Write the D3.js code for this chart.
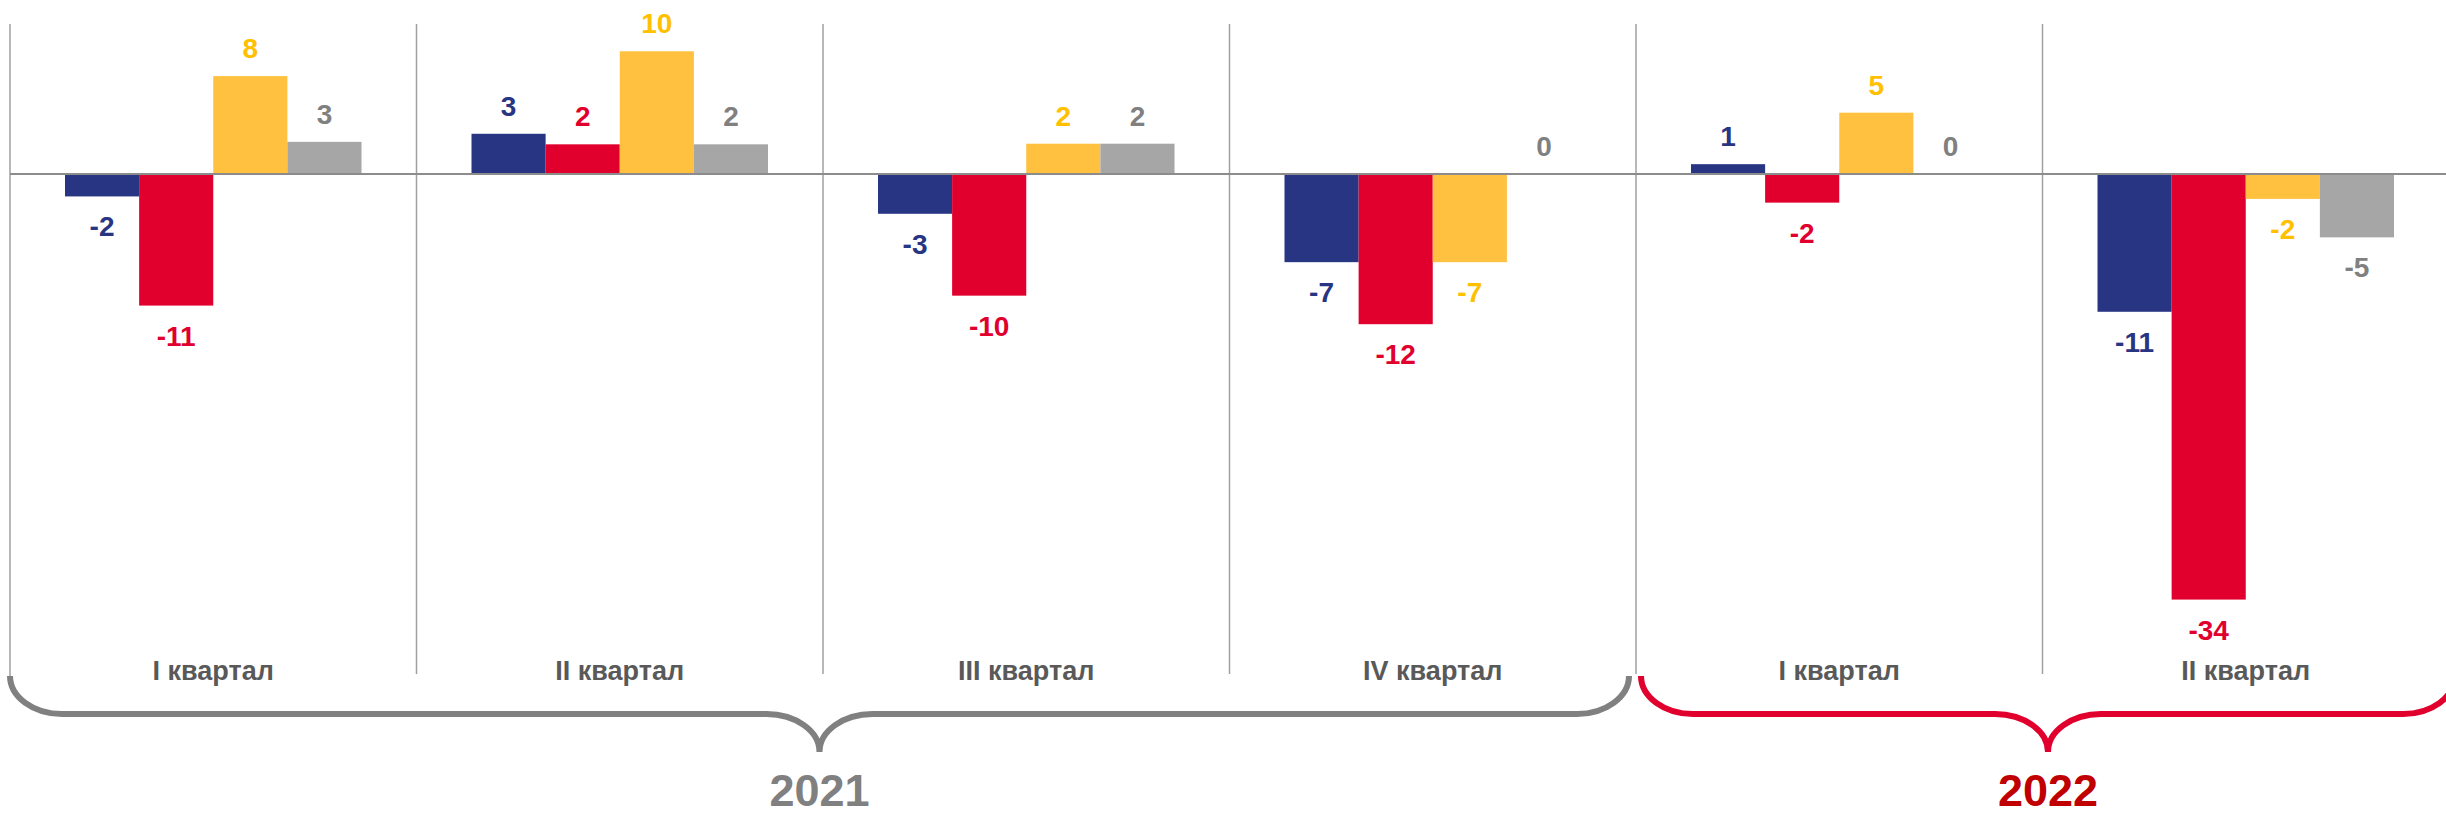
<!DOCTYPE html>
<html>
<head>
<meta charset="utf-8">
<script src="https://cdn.jsdelivr.net/npm/d3@7"></script>
<style>
  html, body { margin: 0; padding: 0; background: #fff; }
  svg { display: block; font-family: "Liberation Sans", Arial, sans-serif; font-weight: bold; }
</style>
</head>
<body>
<div id="chart"></div>
<script>
// quarters and years
const quarters = ["I квартал", "II квартал", "III квартал", "IV квартал", "I квартал", "II квартал"];
const years = ["2021", "2021", "2021", "2021", "2022", "2022"];

// four series, one value per quarter
const seriesNames = ["blue", "red", "yellow", "gray"];
const blueValues = [-1.8, 3.25, -3.2, -7.1, 0.8, -11.1];
const redValues = [-10.6, 2.4, -9.8, -12.1, -2.3, -34.3];
const yellowValues = [7.9, 9.9, 2.45, -7.1, 4.95, -2.0];
const grayValues = [2.6, 2.4, 2.45, 0, 0, -5.1];

const seriesValues = [blueValues, redValues, yellowValues, grayValues];
const barColors = ["#283583", "#e1002d", "#ffc13f", "#a6a6a6"];
const labelColors = ["#283583", "#e1002d", "#ffc000", "#808080"];

const W = 2446, H = 816;
const svg = d3.select("#chart").append("svg")
    .attr("width", W)
    .attr("height", H);

const keys = quarters.map((q, i) => years[i] + " " + q);

const x = d3.scaleBand()
    .domain(keys)
    .range([10, 10 + 6 * 406.5])
    .padding(0);

const x1 = d3.scaleBand()
    .domain(seriesNames)
    .range([55, x.bandwidth() - 55])
    .padding(0);

const y = d3.scaleLinear()
    .domain([-40.3, 12.1])
    .range([674, 24]);

// divider lines between quarters
svg.append("g").selectAll("line")
    .data(keys)
    .enter().append("line")
    .attr("x1", d => x(d))
    .attr("x2", d => x(d))
    .attr("y1", y.range()[1])
    .attr("y2", (d, i) => i === 0 ? 676 : y.range()[0])
    .attr("stroke", "#a0a0a0")
    .attr("stroke-width", 1.5);

// bars
const rows = [];
keys.forEach((k, i) => {
    seriesNames.forEach((s, j) => {
        rows.push({key: k, series: s, j: j, value: seriesValues[j][i]});
    });
});

svg.append("g").selectAll("rect")
    .data(rows)
    .enter().append("rect")
    .attr("x", d => x(d.key) + x1(d.series))
    .attr("width", x1.bandwidth())
    .attr("y", d => y(Math.max(0, d.value)))
    .attr("height", d => Math.abs(y(d.value) - y(0)))
    .attr("fill", d => barColors[d.j]);

// zero line
svg.append("line")
    .attr("x1", 10)
    .attr("x2", W)
    .attr("y1", y(0))
    .attr("y2", y(0))
    .attr("stroke", "#8c8c8c")
    .attr("stroke-width", 2);

// value labels
svg.append("g").selectAll("text")
    .data(rows)
    .enter().append("text")
    .attr("x", d => x(d.key) + x1(d.series) + x1.bandwidth() / 2)
    .attr("y", d => d.value >= 0 ? y(d.value) - 18 : y(d.value) + 40)
    .attr("text-anchor", "middle")
    .attr("font-size", 28)
    .attr("fill", d => labelColors[d.j])
    .text(d => String(Math.round(d.value)));

// quarter labels
svg.append("g").selectAll("text")
    .data(keys)
    .enter().append("text")
    .attr("x", d => x(d) + x.bandwidth() / 2)
    .attr("y", 680)
    .attr("text-anchor", "middle")
    .attr("font-size", 27)
    .attr("fill", "#595959")
    .text((d, i) => quarters[i]);

// year braces
const yearList = Array.from(new Set(years));
const braceColors = ["#808080", "#e1002d"];
const yearColors = ["#808080", "#c00000"];
const bracePad = [[0, -7], [5, 6]];

function bracePath(x0, x1, top, mid, tip) {
    const r = 52, t = 53, k = 0.55;
    const cx = (x0 + x1) / 2;
    return `M${x0},${top}` +
        `C${x0},${top + k * (mid - top)} ${x0 + r * (1 - k)},${mid} ${x0 + r},${mid}` +
        `L${cx - t},${mid}` +
        `C${cx - t * (1 - k)},${mid} ${cx},${mid + (tip - mid) * (1 - k)} ${cx},${tip}` +
        `C${cx},${mid + (tip - mid) * (1 - k)} ${cx + t * (1 - k)},${mid} ${cx + t},${mid}` +
        `L${x1 - r},${mid}` +
        `C${x1 - r * (1 - k)},${mid} ${x1},${top + k * (mid - top)} ${x1},${top}`;
}

yearList.forEach((yr, gi) => {
    const ks = keys.filter((k, i) => years[i] === yr);
    const left = x(ks[0]) + bracePad[gi][0];
    const right = x(ks[ks.length - 1]) + x.bandwidth() + bracePad[gi][1];

    svg.append("path")
        .attr("d", bracePath(left, right, 676, 714, 752))
        .attr("fill", "none")
        .attr("stroke", braceColors[gi])
        .attr("stroke-width", 6);

    svg.append("text")
        .attr("x", (left + right) / 2)
        .attr("y", 806)
        .attr("text-anchor", "middle")
        .attr("font-size", 45)
        .attr("fill", yearColors[gi])
        .text(yr);
});
</script>
</body>
</html>
